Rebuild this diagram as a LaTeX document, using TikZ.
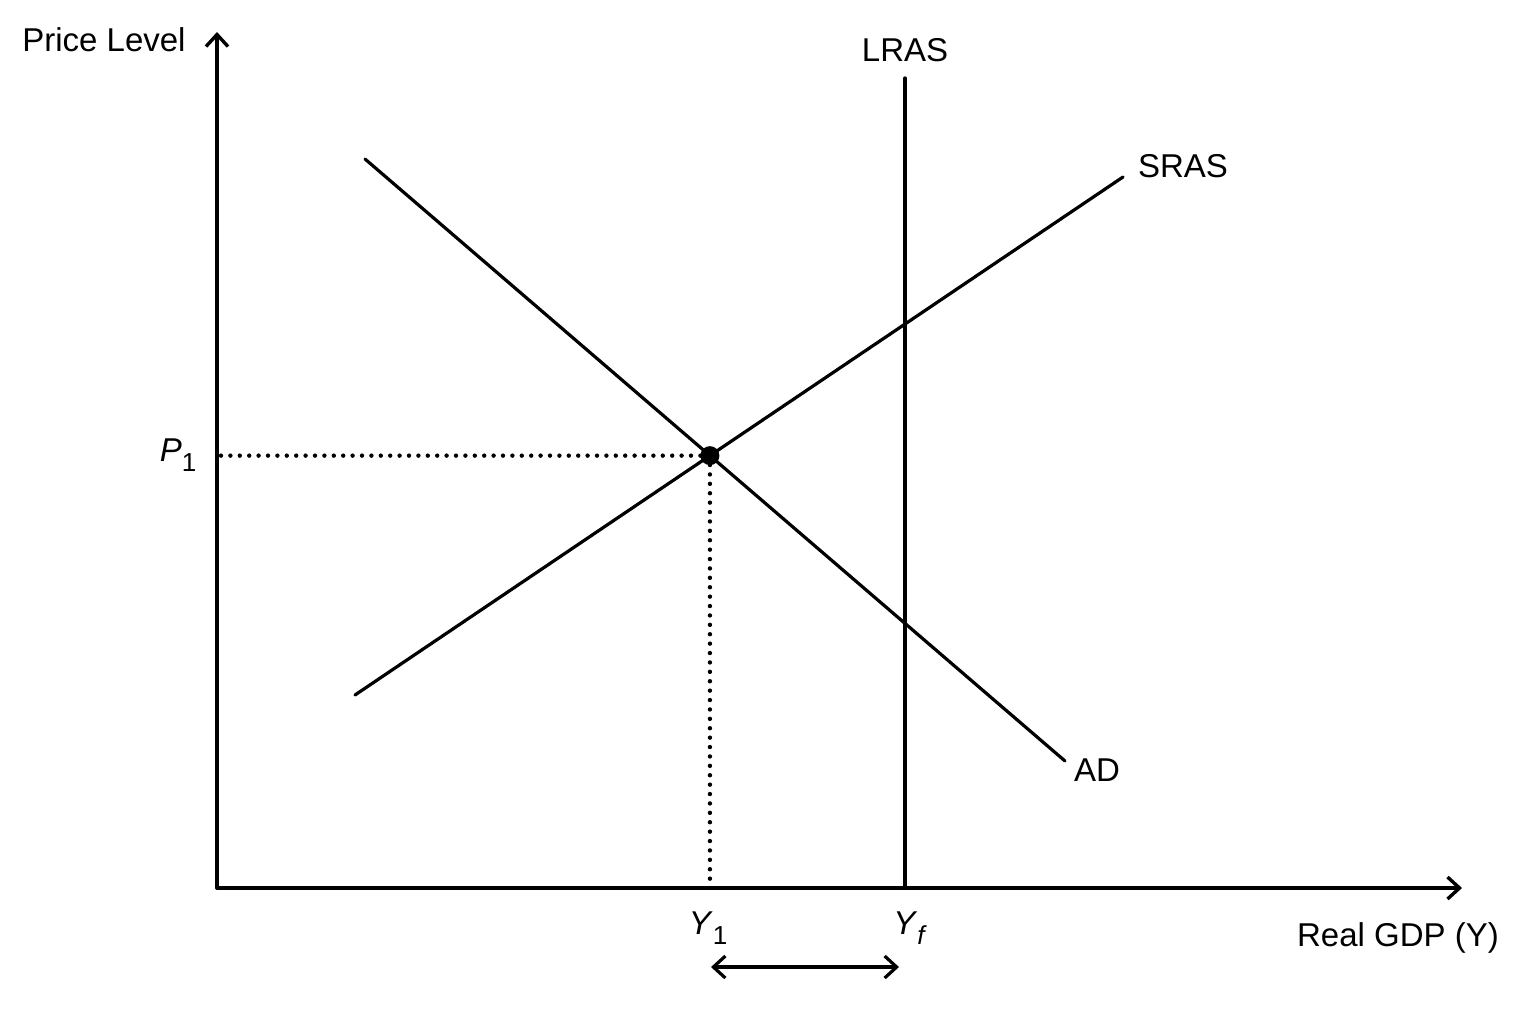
\documentclass[tikz,border=0pt]{standalone}
\usepackage{fontspec}
\setmainfont{Liberation Sans}
\usetikzlibrary{arrows.meta}
\newcommand{\lowsub}[1]{\raisebox{-0.55ex}{\fontsize{13}{13}\selectfont #1}}

\begin{document}
\begin{tikzpicture}[line cap=round,line join=round,>={Straight Barb[length=6pt,width=11pt]},x=0.5pt,y=-0.5pt,font=\fontsize{16.5}{19}\selectfont,
  curve/.style={line width=1.6pt},
  guide/.style={line width=2.2pt,dash pattern=on 0pt off 4.7pt},
  dot/.style={circle,fill=black,inner sep=0pt,minimum size=9.5pt}]
\useasboundingbox (0,0) rectangle (1536,1024);
% axes
\coordinate (O) at (217,888);
\coordinate (ytop) at (217,32);
\coordinate (xend) at (1462,888);
\draw [line width=1.7pt,->] (O) -- (ytop);
\draw [line width=1.7pt,->] (O) -- (xend);
\node (plevel) at (104,40) {Price Level};
\node (rgdp) at (1398,938) {Real GDP (Y)};
% curves
\coordinate (lrastop) at (905,78);
\coordinate (lrasbot) at (905,888);
\coordinate (srasa) at (355,695);
\coordinate (srasb) at (1123,177);
\coordinate (ada) at (365,159);
\coordinate (adb) at (1065,761);
\draw [curve] (lrasbot) -- (lrastop);
\draw [curve] (srasa) -- (srasb);
\draw [curve] (ada) -- (adb);
\node (lras) at (905,50) {LRAS};
\node (sras) at (1183,166) {SRAS};
\node (ad) at (1097,770) {AD};
% equilibrium
\node [dot] (E) at (intersection of srasa--srasb and ada--adb) {};
\coordinate (pax) at ([xshift=2pt]O |- E);
\coordinate (yax) at (E |- O);
\draw [guide] (pax) -- (E.center);
\draw [guide] (E.center) -- (yax);
\node (p1) at (178,455) {\textit{P}\lowsub{1}};
\node (y1) at (708,928) {\textit{Y}\lowsub{1}};
\node (yf) at (910,928) {\textit{Y}\lowsub{\textit{f}}};
% output gap
\coordinate (gapa) at (711,967);
\coordinate (gapb) at (899,967);
\draw [line width=1.6pt,<->] (gapa) -- (gapb);
\end{tikzpicture}
\end{document}
